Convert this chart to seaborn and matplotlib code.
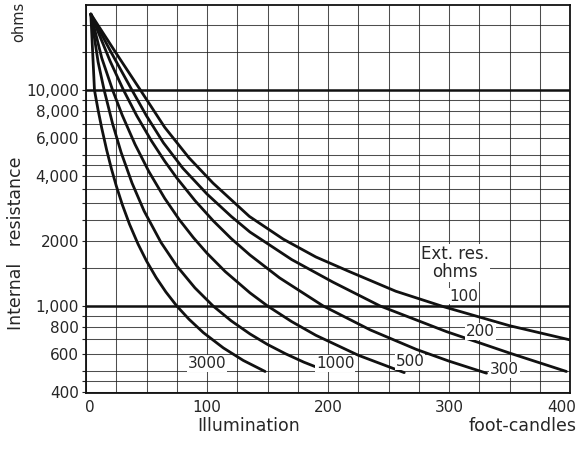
import matplotlib
matplotlib.use("Agg")
import matplotlib.pyplot as plt
import seaborn as sns
import pandas as pd
from matplotlib.ticker import FixedLocator, NullFormatter
from matplotlib.transforms import ScaledTranslation

# ---- data ----
ext_res = ["3000", "1000", "500", "300", "200", "100"]

x_3000 = [4, 7, 10, 13, 17, 21, 25, 30, 36, 43, 50, 58, 66, 75, 85, 97, 113.5, 130, 148]
y_3000 = [22500, 10000, 8080, 6670, 5300, 4322, 3604, 2947, 2388, 1936, 1616, 1353, 1161,
          1000, 869, 752, 639, 559, 497]

x_1000 = [4, 10, 15, 22, 29, 38, 48, 62, 75, 90, 105, 120, 135.5, 150, 165, 180, 198]
y_1000 = [22500, 13500, 10000, 6980, 5150, 3715, 2755, 1968, 1533, 1213, 1000, 853, 742,
          663, 600, 549, 501]

x_500 = [4, 13, 22, 30, 40.5, 52, 65, 77, 88.7, 100, 115, 135.5, 150, 170, 190, 225, 263]
y_500 = [22500, 14100, 10000, 7640, 5610, 4190, 3155, 2515, 2074, 1755, 1444, 1150, 1000,
         846, 731, 591, 491]

x_300 = [4, 20, 31, 42, 54, 65, 75, 90, 105, 120, 135.5, 160, 196, 235, 273, 300, 331]
y_300 = [22500, 13600, 10000, 7600, 5830, 4690, 3920, 3080, 2485, 2052, 1722, 1349, 1000,
         774, 629, 555, 488]

x_200 = [4, 20, 38, 50, 64, 80, 100, 120, 135.5, 170, 204, 243, 298, 350, 397]
y_200 = [22500, 15240, 10000, 7600, 5700, 4350, 3300, 2600, 2200, 1640, 1290, 1000, 760,
         605, 497]

x_100 = [4, 25, 45, 65, 85, 105, 135, 163, 190, 218, 256, 296, 350, 400]
y_100 = [22500, 14800, 10000, 6730, 4866, 3707, 2600, 2040, 1686, 1440, 1170, 990, 810, 696]

y_major = [400, 600, 800, 1000, 2000, 4000, 6000, 8000, 10000]
y_major_labels = ["400", "600", "800", "1,000", "2000", "4,000", "6,000", "8,000", "10,000"]
y_minor = [450, 500, 700, 900, 1500, 2500, 3000, 3500, 4500, 5000, 7000, 9000, 15000, 20000]
x_major = [0, 100, 200, 300, 400]
x_minor = [25, 50, 75, 125, 150, 175, 225, 250, 275, 325, 350, 375]

xs = [x_3000, x_1000, x_500, x_300, x_200, x_100]
ys = [y_3000, y_1000, y_500, y_300, y_200, y_100]

df = pd.concat(
    [pd.DataFrame({"illum": x, "res": y, "ext": n}) for x, y, n in zip(xs, ys, ext_res)],
    ignore_index=True,
)

sns.set_theme(style="white")
plt.rcParams["font.family"] = ["DejaVu Sans"]

fig = plt.figure(figsize=(5.81, 4.49), dpi=100)
ax = fig.add_axes([86 / 581, 1 - 393 / 449, (570 - 86) / 581, (393 - 5) / 449])

sns.lineplot(
    data=df, x="illum", y="res", hue="ext",
    palette={n: "#111111" for n in ext_res},
    estimator=None, sort=False, legend=False, lw=2.0, ax=ax, zorder=4,
)

ax.set_yscale("log")
ax.set_xlim(0, 400)
ax.set_ylim(395, 24800)

ax.yaxis.set_major_locator(FixedLocator(y_major))
ax.set_yticklabels(y_major_labels)
ax.yaxis.set_minor_locator(FixedLocator(y_minor))
ax.yaxis.set_minor_formatter(NullFormatter())
ax.set_xticks(x_major)
ax.set_xticklabels([str(v) for v in x_major])
ax.xaxis.set_minor_locator(FixedLocator(x_minor))

ax.grid(which="both", color="#222222", lw=0.75, alpha=0.8)
ax.axhline(1000, color="#111111", lw=1.8, zorder=3)
ax.axhline(10000, color="#111111", lw=1.8, zorder=3)

ax.tick_params(axis="y", which="both", length=3, width=0.8, color="#222222",
               direction="out", left=True, labelsize=11, pad=2)
ax.tick_params(axis="x", which="major", length=0, labelsize=11, pad=5)
ax.tick_params(axis="x", which="minor", length=0)
for s in ax.spines.values():
    s.set_color("#111111")
    s.set_linewidth(1.3)

xl = ax.get_xticklabels()
xl[0].set_transform(xl[0].get_transform() + ScaledTranslation(4 / 100, 0, fig.dpi_scale_trans))
xl[-1].set_horizontalalignment("right")
xl[-1].set_transform(xl[-1].get_transform() + ScaledTranslation(6 / 100, 0, fig.dpi_scale_trans))

ax.set_xlabel("")
ax.set_ylabel("")

bb = dict(facecolor="white", edgecolor="none", pad=0.5)
ax.text(100, 540, "3000", fontsize=11, ha="center", va="center", bbox=bb, zorder=5)
ax.text(206, 540, "1000", fontsize=11, ha="center", va="center", bbox=bb, zorder=5)
ax.text(268, 550, "500", fontsize=11, ha="center", va="center", bbox=bb, zorder=5)
ax.text(346, 505, "300", fontsize=11, ha="center", va="center", bbox=bb, zorder=5)
ax.text(326, 760, "200", fontsize=11, ha="center", va="center", bbox=bb, zorder=5)
ax.text(312, 1110, "100", fontsize=11, ha="center", va="center", bbox=bb, zorder=5)
ax.text(305, 1580, "Ext. res.\nohms", fontsize=12, ha="center", va="center",
        linespacing=1.0, bbox=dict(facecolor="white", edgecolor="none", pad=1), zorder=5)

fig.text(249 / 581, 1 - 426 / 449, "Illumination", fontsize=12.5, ha="center", va="center")
fig.text(577 / 581, 1 - 426 / 449, "foot-candles", fontsize=12.5, ha="right", va="center")
fig.text(16 / 581, 1 - 243 / 449, "Internal   resistance", fontsize=12.5, rotation=90,
         ha="center", va="center")
fig.text(19 / 581, 1 - 22 / 449, "ohms", fontsize=10.5, rotation=90, ha="center", va="center")

fig.savefig("out.png", dpi=100, facecolor="white")
